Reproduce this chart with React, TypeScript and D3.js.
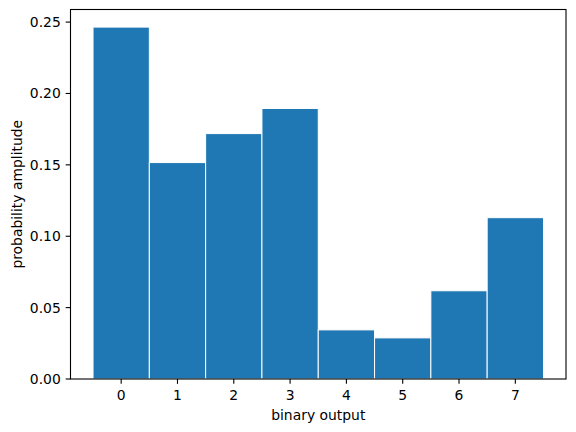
import React from "react";
import * as d3 from "d3";

const categories: string[] = ["0", "1", "2", "3", "4", "5", "6", "7"];
const values: number[] = [0.2465, 0.1516, 0.1719, 0.1895, 0.0344, 0.0288, 0.0618, 0.113];
const yTicks: number[] = [0.0, 0.05, 0.1, 0.15, 0.2, 0.25];
const xLabel = "binary output";
const yLabel = "probability amplitude";

export default function App() {
  const W = 576, H = 432;
  const left = 70.5, right = 566, top = 9.5, bottom = 379;
  const n = categories.length;
  const xs = d3.scaleLinear().domain([-0.5 - 0.4, n - 0.5 + 0.4]).range([left, right]);
  const ymax = (d3.max(values) as number) * 1.05;
  const ys = d3.scaleLinear().domain([0, ymax]).range([bottom, top]);
  const font = "'DejaVu Sans', sans-serif";
  const fs = 13.9;
  const tickLen = 4.86;
  return (
    <svg width={W} height={H} style={{ position: "absolute", left: 0, top: 0 }} fontFamily={font}>
      <rect x={0} y={0} width={W} height={H} fill="white" />
      {values.map((v, i) => (
        <rect
          key={i}
          x={xs(i - 0.5)}
          y={ys(v)}
          width={xs(i + 0.5) - xs(i - 0.5)}
          height={ys(0) - ys(v)}
          fill="#1f77b4"
          stroke="white"
          strokeWidth={1}
        />
      ))}
      {/* spines */}
      <rect x={left} y={top} width={right - left} height={bottom - top} fill="none" stroke="black" strokeWidth={1.1} />
      {/* x ticks */}
      {categories.map((c, i) => (
        <g key={c}>
          <line x1={xs(i)} x2={xs(i)} y1={bottom} y2={bottom + tickLen} stroke="black" strokeWidth={1.1} />
          <text x={xs(i)} y={399.5} textAnchor="middle" fontSize={fs} fill="black">{c}</text>
        </g>
      ))}
      {/* y ticks */}
      {yTicks.map((t) => (
        <g key={t}>
          <line x1={left - tickLen} x2={left} y1={ys(t)} y2={ys(t)} stroke="black" strokeWidth={1.1} />
          <text x={left - tickLen - 4.86} y={ys(t)} dy="0.36em" textAnchor="end" fontSize={fs} fill="black">
            {t.toFixed(2)}
          </text>
        </g>
      ))}
      <text x={(left + right) / 2} y={420} textAnchor="middle" fontSize={fs} fill="black">{xLabel}</text>
      <text
        transform={`translate(21.5,${(top + bottom) / 2}) rotate(-90)`}
        textAnchor="middle"
        fontSize={fs}
        fill="black"
      >
        {yLabel}
      </text>
    </svg>
  );
}
